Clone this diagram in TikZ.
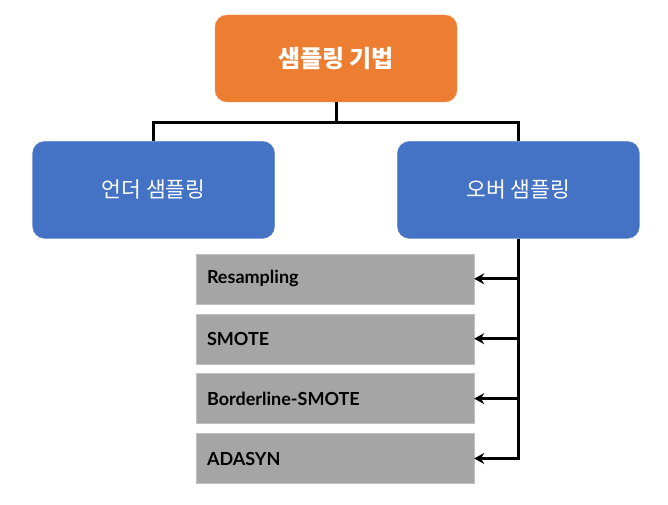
\documentclass[tikz,border=0pt]{standalone}
\usepackage{fontspec}
\setmainfont{Lato}
\newfontfamily\krfont{Noto Sans CJK KR}
\usetikzlibrary{positioning, arrows.meta}

\definecolor{rootorange}{HTML}{ED7D31}
\definecolor{groupblue}{HTML}{4472C4}
\definecolor{methodgray}{HTML}{A5A5A5}

\begin{document}
\begin{tikzpicture}[
    x=1pt, y=1pt,
    every node/.style={inner sep=0pt},
    rootbox/.style={rectangle, rounded corners=12pt, fill=rootorange, draw=rootorange!80!white,
        minimum width=242pt, minimum height=87pt, text=white, font=\krfont\bfseries\fontsize{24}{28}\selectfont},
    groupbox/.style={rectangle, rounded corners=12pt, fill=groupblue, draw=groupblue!80!white,
        minimum width=242pt, minimum height=97pt, text=white, font=\krfont\fontsize{21.5}{25}\selectfont},
    methodbox/.style={rectangle, fill=methodgray, draw=methodgray!70!white, minimum width=278pt,
        minimum height=50pt, text width=256pt, inner xsep=11pt, align=left, font=\bfseries\fontsize{18}{21}\selectfont},
    link/.style={line width=3pt, black},
    arrow/.style={link, -{Stealth[length=10pt, width=11pt]}}
]
\useasboundingbox (0,0) rectangle (668,-505);

% Top level
\node[rootbox] (root) at (336,-58.5) {샘플링 기법};
\node[groupbox, below left=39pt and -60pt of root] (under) {언더 샘플링};
\node[groupbox, below right=39pt and -60pt of root] (over) {오버 샘플링};

% Oversampling methods
\node[methodbox, below left=15pt and -77pt of over] (m0_resampling) {Resampling};
\node[methodbox, below=9.5pt of m0_resampling] (m1_smote) {SMOTE};
\node[methodbox, below=9.5pt of m1_smote] (m2_borderline) {Borderline-SMOTE};
\node[methodbox, below=9.5pt of m2_borderline] (m3_adasyn) {ADASYN};

% Tree links
\draw[link] (root.south) -- ++(0,-20) -| (under.north);
\draw[link] (root.south) -- ++(0,-20) -| (over.north);

% Method arrows
\draw[arrow] (over.south) |- (m3_adasyn.east);
\draw[arrow] (over.south |- m0_resampling.east) -- (m0_resampling.east);
\draw[arrow] (over.south |- m1_smote.east) -- (m1_smote.east);
\draw[arrow] (over.south |- m2_borderline.east) -- (m2_borderline.east);

\end{tikzpicture}
\end{document}
